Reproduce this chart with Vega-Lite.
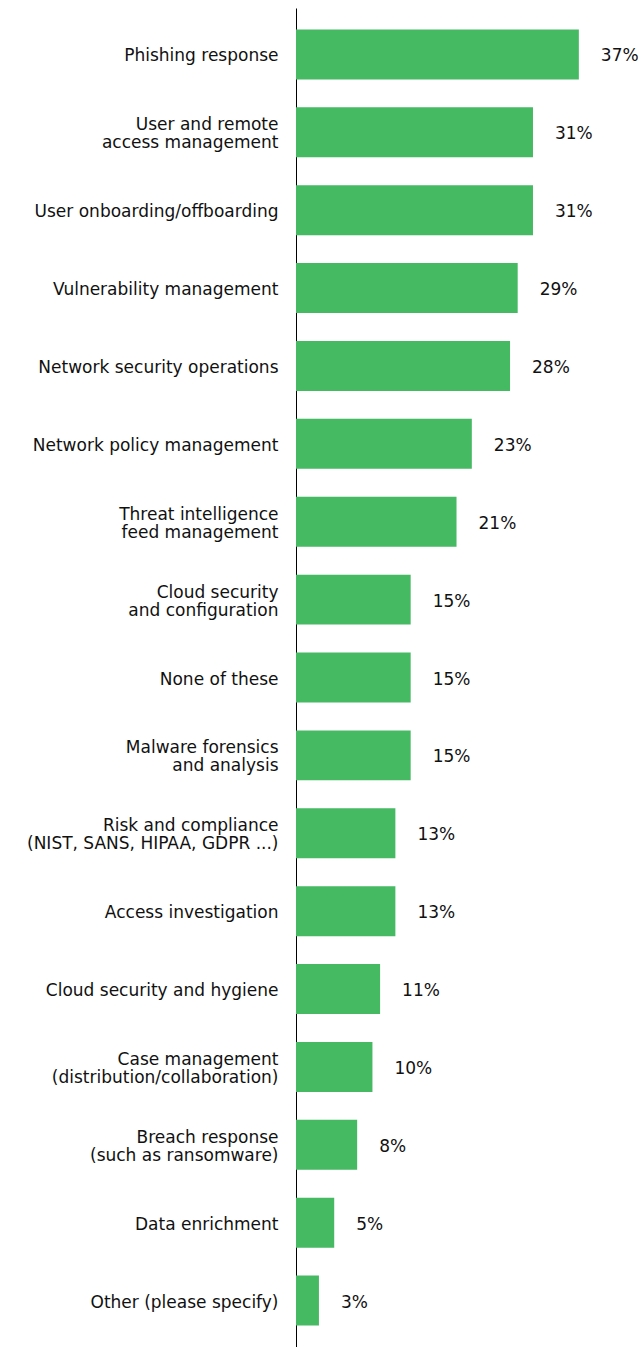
{
  "$schema": "https://vega.github.io/schema/vega-lite/v6.json",
  "width": 344,
  "height": 1339,
  "autosize": "none",
  "padding": {"left": 296, "top": 8, "right": 0, "bottom": 0},
  "background": "white",
  "config": {"view": {"stroke": null}},
  "data": {
    "values": [
      {"task": "Phishing response", "pct": 37},
      {"task": "User and remote|access management", "pct": 31},
      {"task": "User onboarding/offboarding", "pct": 31},
      {"task": "Vulnerability management", "pct": 29},
      {"task": "Network security operations", "pct": 28},
      {"task": "Network policy management", "pct": 23},
      {"task": "Threat intelligence|feed management", "pct": 21},
      {"task": "Cloud security|and configuration", "pct": 15},
      {"task": "None of these", "pct": 15},
      {"task": "Malware forensics|and analysis", "pct": 15},
      {"task": "Risk and compliance|(NIST, SANS, HIPAA, GDPR ...)", "pct": 13},
      {"task": "Access investigation", "pct": 13},
      {"task": "Cloud security and hygiene", "pct": 11},
      {"task": "Case management|(distribution/collaboration)", "pct": 10},
      {"task": "Breach response|(such as ransomware)", "pct": 8},
      {"task": "Data enrichment", "pct": 5},
      {"task": "Other (please specify)", "pct": 3}
    ]
  },
  "transform": [{"calculate": "datum.pct + '%'", "as": "lbl"}],
  "encoding": {
    "y": {
      "field": "task",
      "type": "nominal",
      "sort": null,
      "scale": {"paddingInner": 0.358, "paddingOuter": 0.276},
      "axis": {
        "title": null,
        "ticks": false,
        "domain": true,
        "domainColor": "#000000",
        "domainWidth": 1,
        "labelExpr": "split(datum.value, '|')",
        "labelFont": "DejaVu Sans",
        "labelFontSize": 17,
        "labelColor": "#111111",
        "labelPadding": 18,
        "labelLineHeight": 18,
        "labelLimit": 400,
        "labelOffset": {"condition": {"test": "indexof(datum.value, '|') >= 0", "value": -7}, "value": 2}
      }
    },
    "x": {
      "field": "pct",
      "type": "quantitative",
      "scale": {"domain": [0, 45]},
      "axis": null
    }
  },
  "layer": [
    {"mark": {"type": "bar", "color": "#46B963"}},
    {
      "mark": {"type": "text", "align": "left", "dx": 22, "dy": 2, "font": "DejaVu Sans", "fontSize": 17, "color": "#111111", "baseline": "middle"},
      "encoding": {"text": {"field": "lbl"}}
    }
  ]
}
